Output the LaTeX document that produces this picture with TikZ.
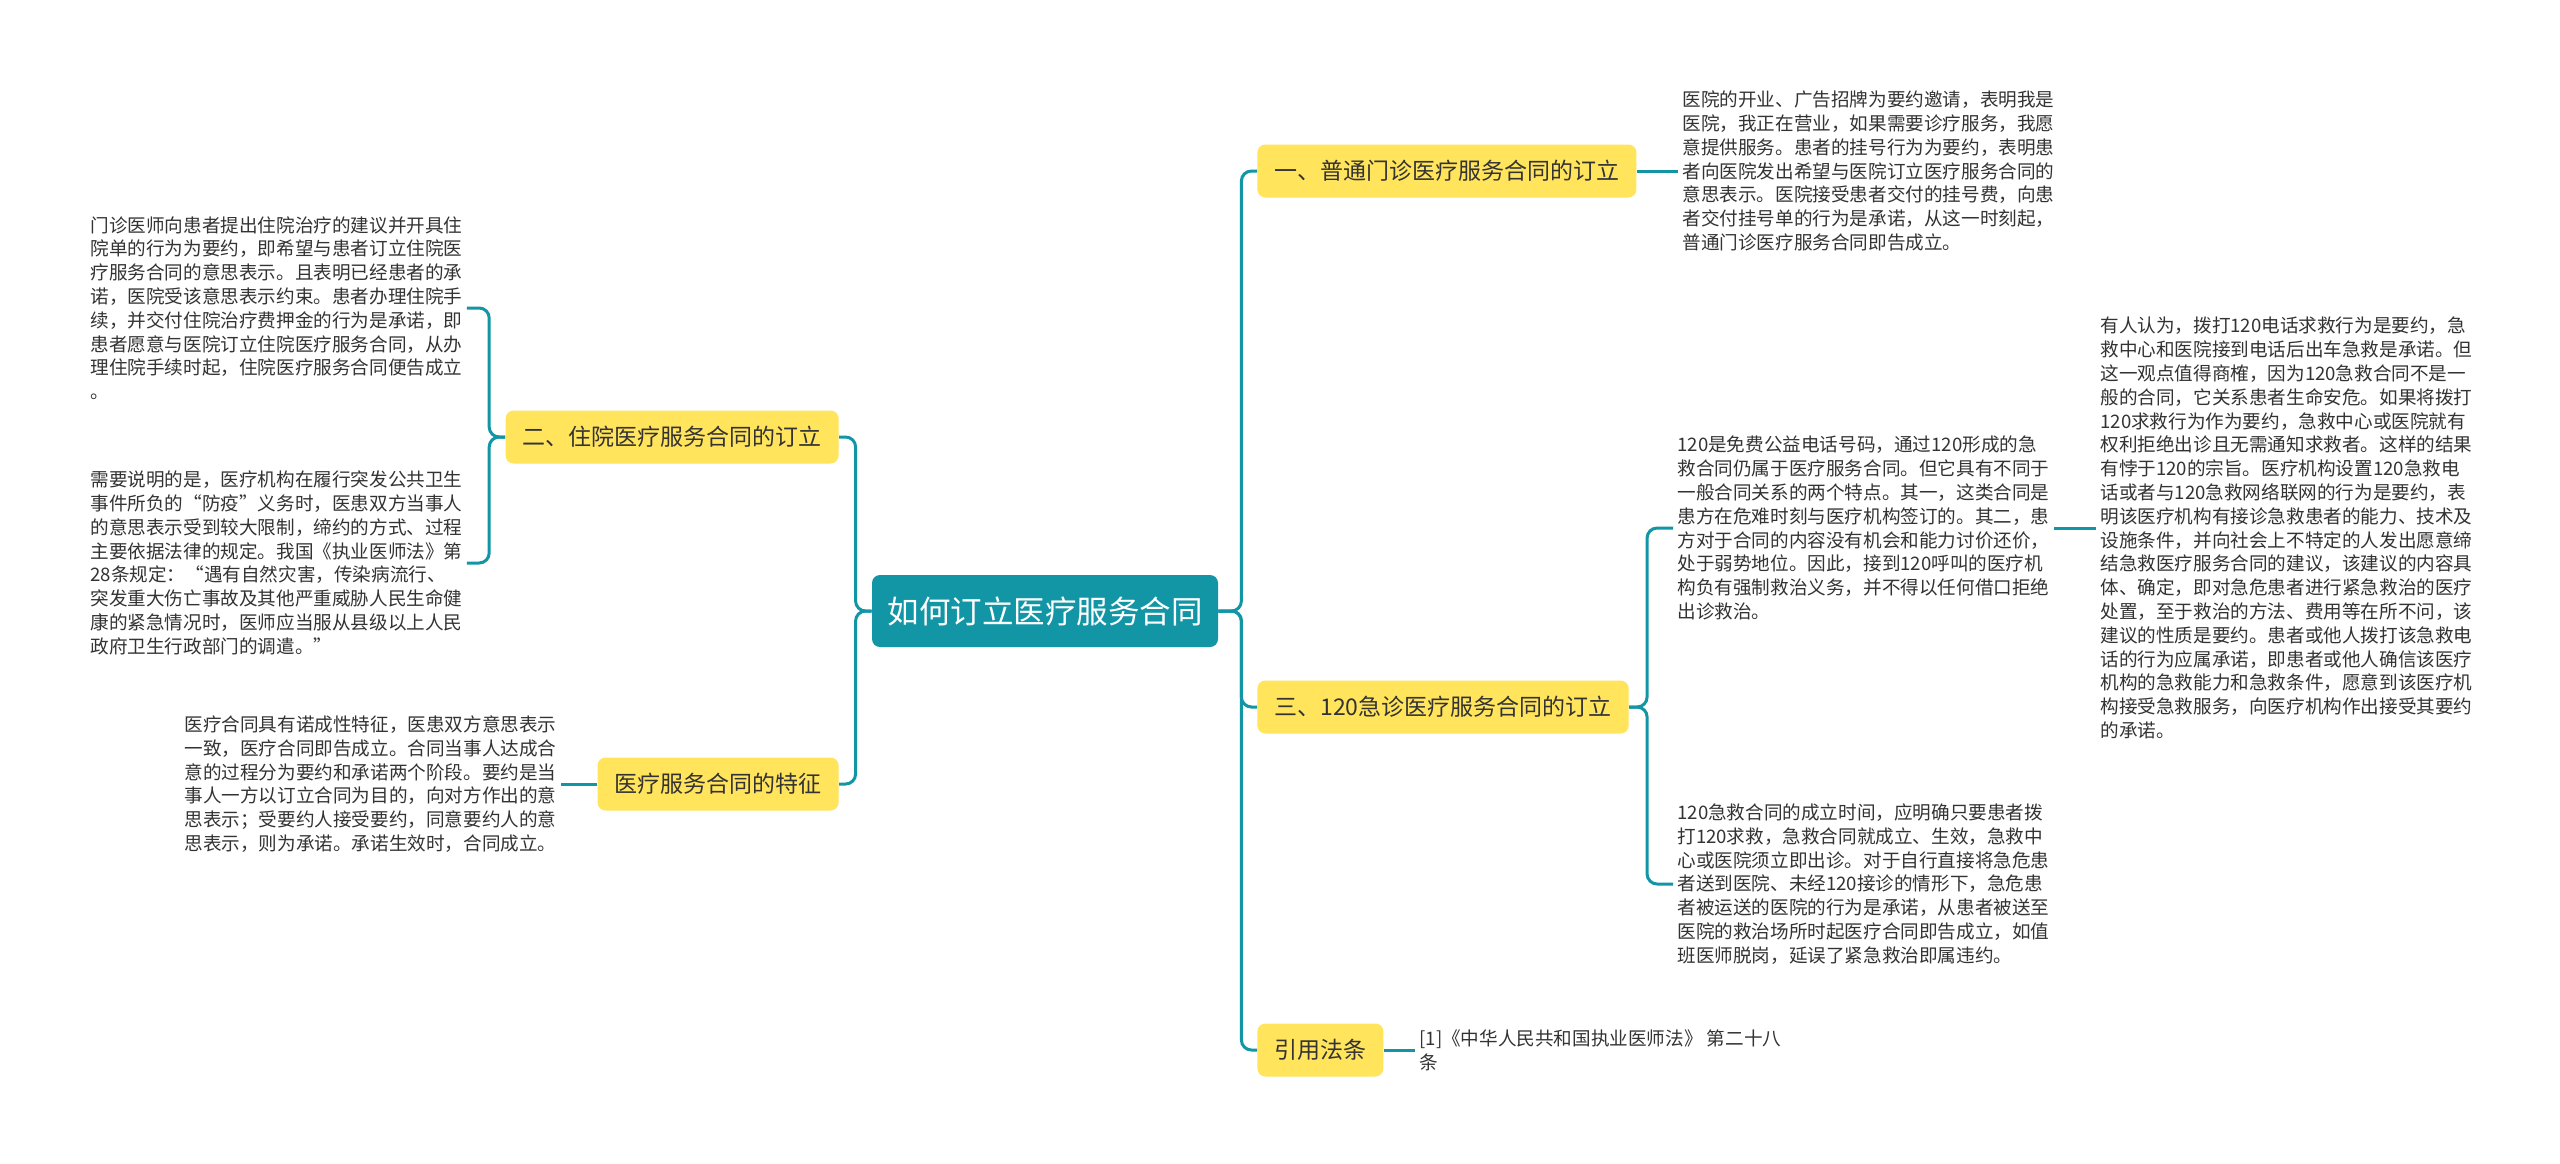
\documentclass[tikz,border=0pt]{standalone}
\usepackage{fontspec}
\setmainfont{Noto Sans CJK SC}
\definecolor{mapteal}{RGB}{18,150,166}
\definecolor{mapyellow}{RGB}{255,228,92}
\definecolor{textgray}{RGB}{51,51,51}

\begin{document}
\begin{tikzpicture}[x=0.5pt, y=-0.5pt,
  link/.style={draw=mapteal, line width=1.5pt, rounded corners=5pt},
  topic/.style={fill=mapyellow, rounded corners=4pt, text=textgray, font=\fontsize{11.5}{14}\selectfont, inner xsep=8.5pt, minimum height=26.5pt},
  leaf/.style={text=textgray, align=left, inner sep=2pt, font=\fontsize{9.3}{11.9}\selectfont}]
\fill[white] (0,0) rectangle (2560,1163);
% Centre
\node[fill=mapteal, rounded corners=4pt, text=white, font=\fontsize{15.75}{18}\selectfont, minimum width=173pt, minimum height=36pt] (root) at (1045,611) {如何订立医疗服务合同};
% Branches
\node[topic, anchor=west] (b1) at (1257,171) {一、普通门诊医疗服务合同的订立};
\node[topic, anchor=west] (b3) at (1257,707) {三、120急诊医疗服务合同的订立};
\node[topic, anchor=west] (b5) at (1257,1050) {引用法条};
\node[topic, anchor=east] (b2) at (839,437) {二、住院医疗服务合同的订立};
\node[topic, anchor=east] (b4) at (839,784) {医疗服务合同的特征};
% Leaves
\node[leaf, anchor=west] (l1) at (1678,171) {医院的开业、广告招牌为要约邀请，表明我是\\医院，我正在营业，如果需要诊疗服务，我愿\\意提供服务。患者的挂号行为为要约，表明患\\者向医院发出希望与医院订立医疗服务合同的\\意思表示。医院接受患者交付的挂号费，向患\\者交付挂号单的行为是承诺，从这一时刻起，\\普通门诊医疗服务合同即告成立。};
\node[leaf, anchor=west] (l2a) at (86,308) {门诊医师向患者提出住院治疗的建议并开具住\\院单的行为为要约，即希望与患者订立住院医\\疗服务合同的意思表示。且表明已经患者的承\\诺，医院受该意思表示约束。患者办理住院手\\续，并交付住院治疗费押金的行为是承诺，即\\患者愿意与医院订立住院医疗服务合同，从办\\理住院手续时起，住院医疗服务合同便告成立\\。};
\node[leaf, anchor=west] (l2b) at (86,563) {需要说明的是，医疗机构在履行突发公共卫生\\事件所负的“防疫”义务时，医患双方当事人\\的意思表示受到较大限制，缔约的方式、过程\\主要依据法律的规定。我国《执业医师法》第\\28条规定：“遇有自然灾害，传染病流行、\\突发重大伤亡事故及其他严重威胁人民生命健\\康的紧急情况时，医师应当服从县级以上人民\\政府卫生行政部门的调遣。”};
\node[leaf, anchor=west] (l4) at (180,784) {医疗合同具有诺成性特征，医患双方意思表示\\一致，医疗合同即告成立。合同当事人达成合\\意的过程分为要约和承诺两个阶段。要约是当\\事人一方以订立合同为目的，向对方作出的意\\思表示；受要约人接受要约，同意要约人的意\\思表示，则为承诺。承诺生效时，合同成立。};
\node[leaf, anchor=west] (l3a) at (1673,528) {120是免费公益电话号码，通过120形成的急\\救合同仍属于医疗服务合同。但它具有不同于\\一般合同关系的两个特点。其一，这类合同是\\患方在危难时刻与医疗机构签订的。其二，患\\方对于合同的内容没有机会和能力讨价还价，\\处于弱势地位。因此，接到120呼叫的医疗机\\构负有强制救治义务，并不得以任何借口拒绝\\出诊救治。};
\node[leaf, anchor=west] (l3b) at (1673,884) {120急救合同的成立时间，应明确只要患者拨\\打120求救，急救合同就成立、生效，急救中\\心或医院须立即出诊。对于自行直接将急危患\\者送到医院、未经120接诊的情形下，急危患\\者被运送的医院的行为是承诺，从患者被送至\\医院的救治场所时起医疗合同即告成立，如值\\班医师脱岗，延误了紧急救治即属违约。};
\node[leaf, anchor=west] (l3c) at (2096,528) {有人认为，拨打120电话求救行为是要约，急\\救中心和医院接到电话后出车急救是承诺。但\\这一观点值得商榷，因为120急救合同不是一\\般的合同，它关系患者生命安危。如果将拨打\\120求救行为作为要约，急救中心或医院就有\\权利拒绝出诊且无需通知求救者。这样的结果\\有悖于120的宗旨。医疗机构设置120急救电\\话或者与120急救网络联网的行为是要约，表\\明该医疗机构有接诊急救患者的能力、技术及\\设施条件，并向社会上不特定的人发出愿意缔\\结急救医疗服务合同的建议，该建议的内容具\\体、确定，即对急危患者进行紧急救治的医疗\\处置，至于救治的方法、费用等在所不问，该\\建议的性质是要约。患者或他人拨打该急救电\\话的行为应属承诺，即患者或他人确信该医疗\\机构的急救能力和急救条件，愿意到该医疗机\\构接受急救服务，向医疗机构作出接受其要约\\的承诺。};
\node[leaf, anchor=west] (l5) at (1415,1050) {[1]《中华人民共和国执业医师法》 第二十八\\条};
% Connectors
\draw[link] (root.east) -- ++(23,0) |- (b1.west);
\draw[link] (root.east) -- ++(23,0) |- (b3.west);
\draw[link] (root.east) -- ++(23,0) |- (b5.west);
\draw[link] (root.west) -- ++(-16,0) |- (b2.east);
\draw[link] (root.west) -- ++(-16,0) |- (b4.east);
\draw[link] (b1.east) -- (l1.west);
\draw[link] (b2.west) -- ++(-16,0) |- (l2a.east);
\draw[link] (b2.west) -- ++(-16,0) |- (l2b.east);
\draw[link] (b4.west) -- (l4.east);
\draw[link] (b3.east) -- ++(18,0) |- (l3a.west);
\draw[link] (b3.east) -- ++(18,0) |- (l3b.west);
\draw[link] (l3a.east) -- (l3c.west);
\draw[link] (b5.east) -- (l5.west);
\end{tikzpicture}
\end{document}
